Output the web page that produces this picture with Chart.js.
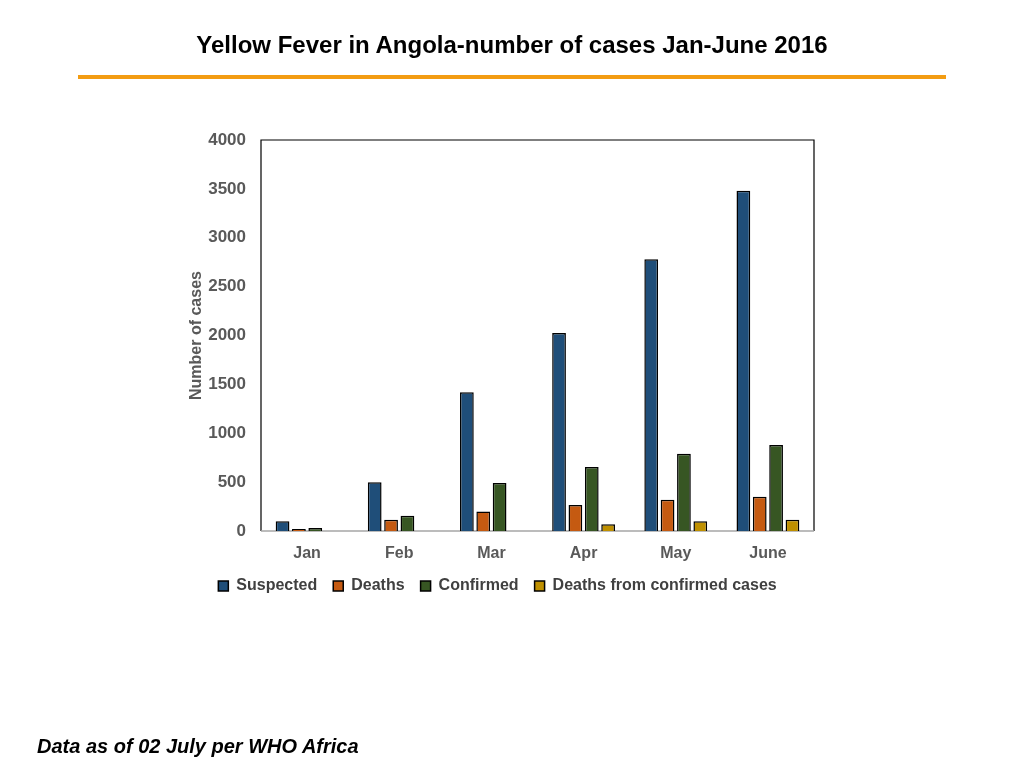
<!DOCTYPE html>
<html>
<head>
<meta charset="utf-8">
<script src="https://cdn.jsdelivr.net/npm/chart.js@4.4.1/dist/chart.umd.min.js"></script>
<style>
  body { margin:0; background:#fff; width:1024px; height:768px; position:relative; overflow:hidden; font-family:"Liberation Sans", Arial, sans-serif; }
  #title { position:absolute; top:31px; left:0; width:1024px; text-align:center; font-weight:bold; font-size:24px; color:#000; }
  #rule { position:absolute; top:75px; left:78px; width:868px; height:4px; background:#f39c12; }
  #note { position:absolute; left:37px; top:735px; font-weight:bold; font-style:italic; font-size:20px; color:#000; }
  #wrap { position:absolute; left:0; top:0; width:1024px; height:768px; }
</style>
</head>
<body>
<div id="wrap"><canvas id="chart" width="1024" height="768"></canvas></div>
<div id="title">Yellow Fever in Angola-number of cases Jan-June 2016</div>
<div id="rule"></div>
<div id="note">Data as of 02 July per WHO Africa</div>
<script>
  const months = ["Jan", "Feb", "Mar", "Apr", "May", "June"]
  const suspected = [100, 500, 1420, 2025, 2780, 3480]
  const deaths = [20, 115, 200, 265, 320, 350]
  const confirmed = [30, 155, 490, 655, 790, 880]
  const deathsConfirmed = [null, null, null, 70, 100, 115]
  const yTicks = [0, 500, 1000, 1500, 2000, 2500, 3000, 3500, 4000]

  const colors = ["#1f4e79", "#c55a11", "#375623", "#bf9000"]
  const gray = "#595959"

  function makeSet(label, values, i){
    return {
      label: label,
      data: values,
      backgroundColor: colors[i],
      borderColor: "#000",
      borderWidth: 1.5,
      categoryPercentage: 0.71,
      barPercentage: 0.84
    }
  }

  const frame = {   // box around the plot area
    id: "frame",
    beforeDatasetsDraw(chart){
      const a = chart.chartArea, c = chart.ctx
      c.save()
      c.strokeStyle = "#000"
      c.lineWidth = 1.2
      c.beginPath()
      c.moveTo(a.left, a.bottom)
      c.lineTo(a.left, a.top)
      c.lineTo(a.right, a.top)
      c.lineTo(a.right, a.bottom)
      c.stroke()
      c.strokeStyle = "#a6a6a6"
      c.lineWidth = 1.5
      c.beginPath()
      c.moveTo(a.left, a.bottom)
      c.lineTo(a.right, a.bottom)
      c.stroke()
      c.restore()
    }
  }

  new Chart(document.getElementById("chart"), {
    type: "bar",
    data: {
      labels: months,
      datasets: [
        makeSet("Suspected", suspected, 0),
        makeSet("Deaths", deaths, 1),
        makeSet("Confirmed", confirmed, 2),
        makeSet("Deaths from confirmed cases", deathsConfirmed, 3)
      ]
    },
    options: {
      responsive: false,
      animation: false,
      devicePixelRatio: 1,
      layout: { padding: { left: 181, right: 210, top: 140, bottom: 164 } },
      plugins: {
        tooltip: { enabled: false },
        legend: {
          position: "bottom",
          labels: {
            boxWidth: 10, boxHeight: 10, padding: 16, color: "#404040",
            font: { family: "Liberation Sans", weight: "bold", size: 16 }
          }
        }
      },
      scales: {
        x: {
          clip: false,
          grid: { display: false },
          border: { display: false },
          ticks: { color: gray, padding: 5, font: { family: "Liberation Sans", weight: "bold", size: 16 } },
          afterFit(s){ s.height = 31 }
        },
        y: {
          min: 0, max: 4000,
          clip: false,
          grid: { display: false },
          border: { display: false },
          afterBuildTicks(s){ s.ticks = yTicks.map(v => ({ value: v })) },
          ticks: { color: gray, padding: 7, callback: v => String(v),
                   font: { family: "Liberation Sans", weight: "bold", size: 17 } },
          title: { display: true, text: "Number of cases", color: gray, padding: { top: 6, bottom: 0 },
                   font: { family: "Liberation Sans", weight: "bold", size: 16 } },
          afterFit(s){ s.width = 80 }
        }
      }
    },
    plugins: [frame]
  })
</script>
</body>
</html>
